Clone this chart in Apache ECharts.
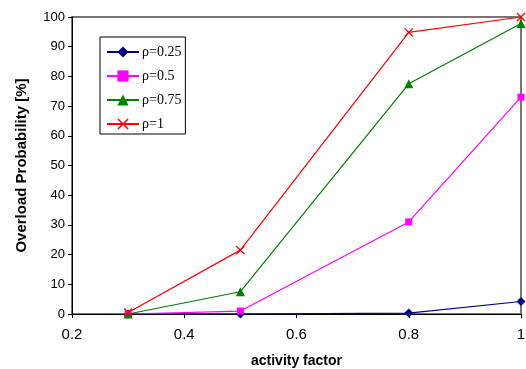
<!DOCTYPE html>
<html>
<head>
<meta charset="utf-8">
<script src="https://cdn.jsdelivr.net/npm/echarts@6/dist/echarts.min.js"></script>
<style>
  html, body { margin: 0; padding: 0; background: #fff; }
  #chart { width: 526px; height: 369px; }
</style>
</head>
<body>
<div id="chart"></div>
<script>
// activity factor values on the x axis
var activity = [0.3, 0.5, 0.8, 1.0];

// overload probability [%] for each rho
var rho025 = [0, 0, 0.3, 4.2];
var rho05 = [0, 1, 31, 73];
var rho075 = [0, 7.5, 77.5, 97.8];
var rho1 = [0.5, 21.5, 94.8, 100];

var names = ['ρ=0.25', 'ρ=0.5', 'ρ=0.75', 'ρ=1'];
var colors = ['#000080', '#FF00FF', '#008000', '#FF0000'];

var crossSymbol = 'path://M0,1L1,0L5,4L9,0L10,1L6,5L10,9L9,10L5,6L1,10L0,9L4,5Z';

function pairs(vals) {
  return activity.map(function (x, i) { return [x, vals[i]]; });
}

function makeSeries(name, vals, color, symbol, size) {
  return {
    name: name,
    type: 'line',
    data: pairs(vals),
    symbol: symbol,
    symbolSize: size,
    showAllSymbol: true,
    lineStyle: { color: color, width: 1.2 },
    itemStyle: { color: color },
    emphasis: { disabled: true },
    animation: false
  };
}

var chart = echarts.init(document.getElementById('chart'));

var option = {
  backgroundColor: '#fff',
  color: colors,
  grid: {
    left: 72,
    right: 5,
    top: 17,
    bottom: 55,
    containLabel: false,
    outerBoundsMode: 'none',
    show: true,
    borderColor: '#777',
    borderWidth: 2,
    backgroundColor: 'transparent'
  },
  legend: {
    orient: 'vertical',
    left: 100,
    top: 37,
    padding: [8, 4, 3, 6],
    itemGap: 10,
    itemWidth: 32,
    itemHeight: 14,
    borderColor: '#000',
    borderWidth: 1,
    backgroundColor: '#fff',
    textStyle: {
      fontFamily: 'Liberation Serif',
      fontSize: 14,
      color: '#000',
      padding: [0, 0, 0, -2]
    },
    data: names
  },
  xAxis: {
    type: 'value',
    min: 0.2,
    max: 1,
    interval: 0.2,
    name: 'activity factor',
    nameLocation: 'middle',
    nameGap: 40,
    nameTextStyle: {
      fontFamily: 'Liberation Sans',
      fontWeight: 'bold',
      fontSize: 14,
      color: '#000'
    },
    axisLine: { lineStyle: { color: '#000', width: 1 } },
    axisTick: { show: true, length: 4, lineStyle: { color: '#000' } },
    splitLine: { show: false },
    axisLabel: {
      fontFamily: 'Liberation Sans',
      fontSize: 15,
      color: '#000',
      margin: 13,
      formatter: function (v) { return String(Math.round(v * 10) / 10); }
    }
  },
  yAxis: {
    type: 'value',
    min: 0,
    max: 100,
    interval: 10,
    name: 'Overload Probability [%]',
    nameLocation: 'middle',
    nameGap: 43,
    nameTextStyle: {
      fontFamily: 'Liberation Sans',
      fontWeight: 'bold',
      fontSize: 15,
      color: '#000'
    },
    axisLine: { show: true, lineStyle: { color: '#000', width: 1 } },
    axisTick: { show: true, length: 4, lineStyle: { color: '#000' } },
    splitLine: { show: false },
    axisLabel: {
      fontFamily: 'Liberation Sans',
      fontSize: 13,
      color: '#000',
      margin: 7
    }
  },
  series: [
    makeSeries(names[0], rho025, colors[0], 'diamond', 9),
    makeSeries(names[1], rho05, colors[1], 'rect', 7),
    makeSeries(names[2], rho075, colors[2], 'triangle', 9),
    makeSeries(names[3], rho1, colors[3], crossSymbol, 9)
  ]
};

chart.setOption(option);
</script>
</body>
</html>
